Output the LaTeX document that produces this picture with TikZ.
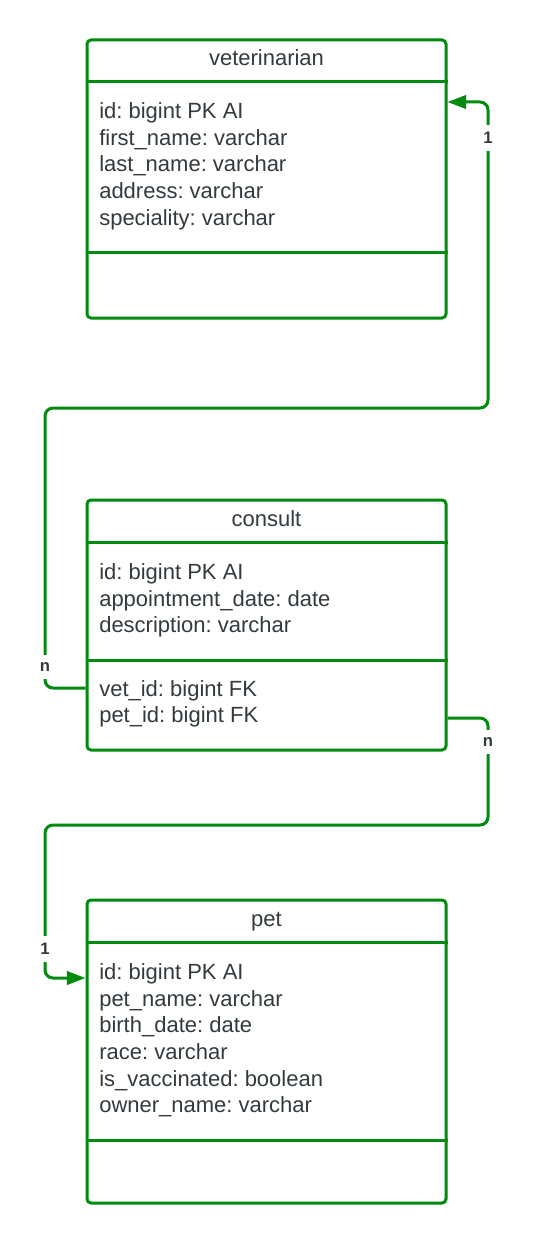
\documentclass[tikz,border=0pt]{standalone}
\usepackage{fontspec}
\setmainfont{Liberation Sans}
\usetikzlibrary{arrows.meta}
\definecolor{lgreen}{RGB}{0,138,14}
\definecolor{ltext}{RGB}{51,58,62}
\frenchspacing
\begin{document}
\begin{tikzpicture}[x=0.75pt,y=-0.75pt,
  box/.style={draw=lgreen,line width=2.25pt,rounded corners=3pt,minimum width=269.25pt,inner sep=0pt},
  sep/.style={draw=lgreen,line width=2.25pt},
  ttl/.style={anchor=base,text=ltext,font=\frenchspacing\fontsize{16.5}{20}\selectfont,inner sep=0pt},
  attr/.style={anchor=base west,text=ltext,font=\frenchspacing\fontsize{16.5}{20}\selectfont,inner sep=0pt},
  conn/.style={draw=lgreen,line width=2.25pt,rounded corners=6pt},
  lbl/.style={fill=white,text=ltext,font=\bfseries\fontsize{12.5}{14}\selectfont,inner xsep=2pt,inner ysep=5.5pt},
  arr/.style={-{Triangle[length=14pt,width=10pt]}}]
\useasboundingbox (0,0) rectangle (534,1244);
% veterinarian
\node[box,minimum height=208.5pt] (vet) at (266.5,179) {};
\draw[sep] (vet.west |- 0,82) -- (vet.east |- 0,82);
\draw[sep] (vet.west |- 0,253) -- (vet.east |- 0,253);
\node[ttl] (vett) at (266.5,66) {veterinarian};
\node[attr] (v1) at (99,118.5) {id: bigint PK AI};
\node[attr] (v2) at (99,145.2) {first\_name: varchar};
\node[attr] (v3) at (99,171.8) {last\_name: varchar};
\node[attr] (v4) at (99,198.5) {address: varchar};
\node[attr] (v5) at (99,225.2) {speciality: varchar};
% consult
\node[box,minimum height=187.5pt] (cons) at (266.5,625) {};
\draw[sep] (cons.west |- 0,542) -- (cons.east |- 0,542);
\draw[sep] (cons.west |- 0,660) -- (cons.east |- 0,660);
\node[ttl] (const) at (266.5,526) {consult};
\node[attr] (c1) at (99,579.5) {id: bigint PK AI};
\node[attr] (c2) at (99,606.2) {appointment\_date: date};
\node[attr] (c3) at (99,632.8) {description: varchar};
\node[attr] (vetid) at (99,696) {vet\_id: bigint FK};
\node[attr] (petid) at (99,722.7) {pet\_id: bigint FK};
% pet
\node[box,minimum height=227.25pt] (pet) at (266.5,1051.5) {};
\draw[sep] (pet.west |- 0,942) -- (pet.east |- 0,942);
\draw[sep] (pet.west |- 0,1140) -- (pet.east |- 0,1140);
\node[ttl] (pett) at (266.5,926) {pet};
\node[attr] (p1) at (99,979.5) {id: bigint PK AI};
\node[attr] (p2) at (99,1006.2) {pet\_name: varchar};
\node[attr] (p3) at (99,1032.8) {birth\_date: date};
\node[attr] (p4) at (99,1059.5) {race: varchar};
\node[attr] (p5) at (99,1086.2) {is\_vaccinated: boolean};
\node[attr] (p6) at (99,1112.8) {owner\_name: varchar};
% connectors
\coordinate (a1) at (45,408);
\coordinate (a2) at (488,408);
\draw[conn,arr] (cons.west |- 0,688) -| (a1) -- (a2) |- (vet.east |- 0,102);
\coordinate (b1) at (488,825);
\coordinate (b2) at (45,825);
\draw[conn,arr] (cons.east |- 0,718) -| (b1) -- (b2) |- (pet.west |- 0,978);
\node[lbl] (l1) at (488,138) {1};
\node[lbl] (l2) at (45,667) {n};
\node[lbl] (l3) at (488,742) {n};
\node[lbl] (l4) at (45,949) {1};
\end{tikzpicture}
\end{document}
